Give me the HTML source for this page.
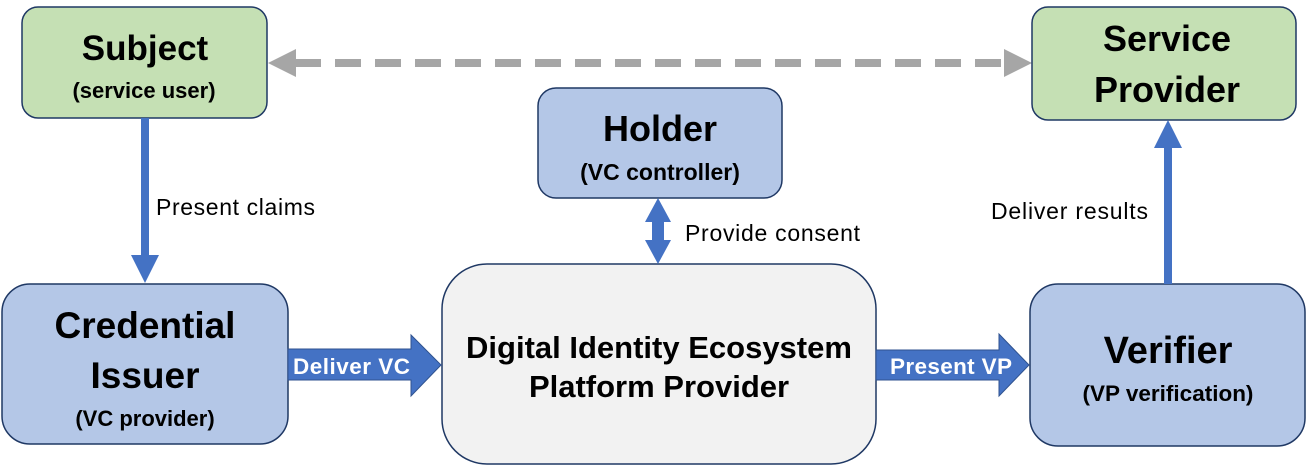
<!DOCTYPE html>
<html><head><meta charset="utf-8"><style>
html,body{margin:0;padding:0;background:#fff;}
svg{display:block;}
text{font-family:"Liberation Sans",sans-serif;}
.b{font-weight:bold;fill:#000;}
</style></head><body>
<svg width="1306" height="467" viewBox="0 0 1306 467" xmlns="http://www.w3.org/2000/svg">
<line x1="295" y1="63" x2="1005" y2="63" stroke="#a6a6a6" stroke-width="8" stroke-dasharray="26,14"/>
<polygon points="268,63 296,49 296,77" fill="#a6a6a6"/>
<polygon points="1032,63 1004,49 1004,77" fill="#a6a6a6"/>
<rect x="22" y="7" width="245" height="111" rx="16" fill="#c5e0b4" stroke="#1f3864" stroke-width="1.5"/>
<rect x="1032" y="7" width="264" height="113" rx="16" fill="#c5e0b4" stroke="#1f3864" stroke-width="1.5"/>
<rect x="538" y="88" width="244" height="110" rx="18" fill="#b4c7e7" stroke="#1f3864" stroke-width="1.5"/>
<rect x="2" y="284" width="286" height="160" rx="28" fill="#b4c7e7" stroke="#1f3864" stroke-width="1.5"/>
<rect x="442" y="264" width="434" height="200" rx="45" fill="#f2f2f2" stroke="#1f3864" stroke-width="1.5"/>
<rect x="1030" y="284" width="275" height="162" rx="28" fill="#b4c7e7" stroke="#1f3864" stroke-width="1.5"/>
<rect x="141" y="118" width="8" height="140" fill="#4472c4"/>
<polygon points="131,255 159,255 145,283" fill="#4472c4"/>
<rect x="1164" y="146" width="8" height="138" fill="#4472c4"/>
<polygon points="1154,148 1182,148 1168,120" fill="#4472c4"/>
<polygon points="658,198 671,222 664,222 664,240 671,240 658,264 645,240 652,240 652,222 645,222" fill="#4472c4"/>
<polygon points="288,349 411,349 411,335 441,365 411,396 411,380 288,380" fill="#4472c4" stroke="#2f528f" stroke-width="1"/>
<polygon points="876,350 999,350 999,334 1029,365 999,396 999,380 876,380" fill="#4472c4" stroke="#2f528f" stroke-width="1"/>
<text x="293" y="374" font-size="22.5" font-weight="bold" fill="#fff" textLength="117">Deliver VC</text>
<text x="890" y="374" font-size="22.5" font-weight="bold" fill="#fff" textLength="122">Present VP</text>
<text class="b" x="145" y="60" font-size="35" text-anchor="middle">Subject</text>
<text class="b" x="144" y="98" font-size="22" text-anchor="middle">(service user)</text>
<text class="b" x="1167" y="51" font-size="36" text-anchor="middle">Service</text>
<text class="b" x="1167" y="102" font-size="36" text-anchor="middle">Provider</text>
<text class="b" x="660" y="141" font-size="36" text-anchor="middle">Holder</text>
<text class="b" x="660" y="180" font-size="23" text-anchor="middle">(VC controller)</text>
<text class="b" x="145" y="338" font-size="37" text-anchor="middle">Credential</text>
<text class="b" x="145" y="388" font-size="37" text-anchor="middle">Issuer</text>
<text class="b" x="145" y="426" font-size="22" text-anchor="middle">(VC provider)</text>
<text class="b" x="659" y="358" font-size="31" text-anchor="middle">Digital Identity Ecosystem</text>
<text class="b" x="659" y="397" font-size="31" text-anchor="middle">Platform Provider</text>
<text class="b" x="1168" y="363" font-size="38" text-anchor="middle">Verifier</text>
<text class="b" x="1168" y="401" font-size="22.5" text-anchor="middle">(VP verification)</text>
<text x="156" y="215" font-size="23" fill="#000" textLength="159">Present claims</text>
<text x="685" y="241" font-size="23" fill="#000" textLength="175">Provide consent</text>
<text x="991" y="219" font-size="23" fill="#000" textLength="157">Deliver results</text>
</svg>
</body></html>
